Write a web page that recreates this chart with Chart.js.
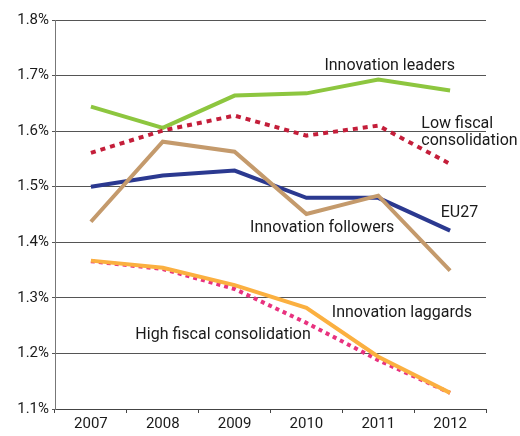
<!DOCTYPE html>
<html>
<head>
<meta charset="utf-8">
<script src="https://cdn.jsdelivr.net/npm/chart.js@4.4.0/dist/chart.umd.min.js"></script>
<style>
  html, body { margin: 0; padding: 0; background: #fff; }
  #wrap { width: 520px; height: 436px; }
</style>
</head>
<body>
<div id="wrap"><canvas id="c"></canvas></div>
<script>
var years = ['2007', '2008', '2009', '2010', '2011', '2012'];
var leaders = [1.644, 1.606, 1.664, 1.668, 1.693, 1.673];
var lowFiscal = [1.561, 1.601, 1.628, 1.592, 1.610, 1.541];
var eu27 = [1.500, 1.520, 1.529, 1.480, 1.480, 1.421];
var followers = [1.437, 1.581, 1.563, 1.451, 1.484, 1.349];
var laggards = [1.367, 1.354, 1.323, 1.282, 1.194, 1.129];
var highFiscal = [1.366, 1.352, 1.316, 1.255, 1.188, 1.129];

// text labels: [text lines, x category index (fractional), y value, align]
var labels = [
    [['Innovation leaders'], 4.16, 1.718, 'center'],
    [['Low fiscal', 'consolidation'], 4.6, 1.613, 'left'],
    [['EU27'], 5.13, 1.453, 'center'],
    [['Innovation followers'], 3.22, 1.425, 'center'],
    [['Innovation laggards'], 4.33, 1.273, 'center'],
    [['High fiscal consolidation'], 1.84, 1.233, 'center']
];

var fontFam = 'Roboto, "DejaVu Sans", sans-serif';

var textPlugin = {
    id: 'texts',
    afterDatasetsDraw: function (chart) {
        var ctx = chart.ctx;
        var xs = chart.scales.x, ys = chart.scales.y;
        ctx.save();
        ctx.fillStyle = '#1a1a1a';
        ctx.font = '16px ' + fontFam;
        ctx.textBaseline = 'middle';
        labels.forEach(function (l) {
            var x = xs.getPixelForValue(l[1]);
            var y = ys.getPixelForValue(l[2]);
            ctx.textAlign = l[3];
            l[0].forEach(function (t, i) {
                ctx.fillText(t, x, y + i * 17);
            });
        });
        ctx.restore();
    }
};

function ds(data, color, dash) {
    return {
        data: data,
        borderColor: color,
        borderWidth: 4,
        borderDash: dash || [],
        pointRadius: 0,
        tension: 0,
        fill: false
    };
}

new Chart(document.getElementById('c'), {
    type: 'line',
    data: {
        labels: years,
        datasets: [
            ds(laggards, '#fbb040'),
            ds(highFiscal, '#e8327f', [4, 4]),
            ds(followers, '#c49a6c'),
            ds(eu27, '#2b3990'),
            ds(lowFiscal, '#c41e3a', [5, 5]),
            ds(leaders, '#8dc63f')
        ]
    },
    options: {
        responsive: true,
        maintainAspectRatio: false,
        animation: false,
        layout: { padding: { top: 20, right: 34, left: 0, bottom: 0 } },
        plugins: { legend: { display: false }, tooltip: { enabled: false } },
        scales: {
            x: {
                offset: true,
                grid: { display: true, drawOnChartArea: false, drawTicks: true, tickLength: 4, color: '#444', offset: true },
                border: { color: '#444', width: 1 },
                ticks: { color: '#1a1a1a', font: { size: 15, family: fontFam }, padding: 2 },
                afterFit: function (s) { s.height = 27; }
            },
            y: {
                min: 1.1,
                max: 1.8,
                grid: { color: '#555', lineWidth: 1, tickLength: 3 },
                border: { color: '#777', width: 1 },
                ticks: {
                    stepSize: 0.1,
                    color: '#1a1a1a',
                    font: { size: 15, family: fontFam },
                    padding: 3,
                    callback: function (v) { return v.toFixed(1) + '%'; }
                },
                afterFit: function (s) { s.width = 55; }
            }
        }
    },
    plugins: [textPlugin]
});
</script>
</body>
</html>
